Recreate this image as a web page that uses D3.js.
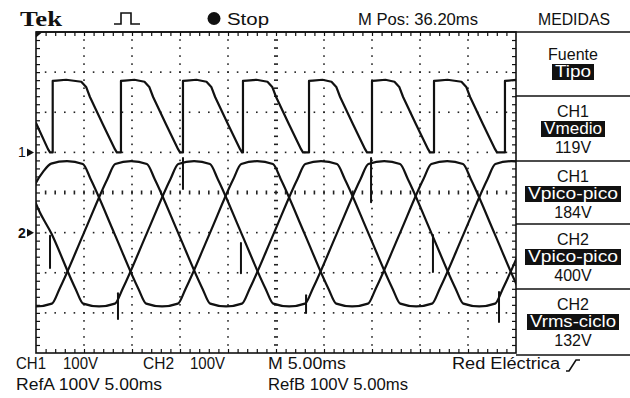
<!DOCTYPE html>
<html><head><meta charset="utf-8">
<script src="https://cdn.jsdelivr.net/npm/d3@7"></script>
<style>
html,body{margin:0;padding:0;background:#fff;}
svg{display:block;}
text{font-family:"Liberation Sans",Arial,sans-serif;fill:#111;}
</style></head><body>
<svg id="c" width="630" height="398"></svg>
<script>
// ---------- data (time in ms, voltage in V) ----------
const timeDomain = [0, 50];          // 10 div x 5.00 ms
const divDomain = [-4, 4];           // 8 vertical divisions
const voltsPerDiv = 100;
const ch1Offset = 1;                 // CH1 ground marker (div)
const ch2Offset = -1;                // CH2 / Ref ground marker (div)

// CH1: rectifier output
const ch1Trace = [
  [0,73],[1.25,8],[1.46,0],
  [1.74,0],[1.74,178],[2.14,179],[3.14,181],[4.72,176],[5.22,163],[5.62,138],[6.96,70],[8.22,8],[8.42,0],
  [8.85,0],[8.85,178],[9.25,179],[10.25,181],[11.3,176],[11.8,163],[12.2,138],[13.54,70],[14.8,8],[15.0,0],
  [15.31,0],[15.31,178],[15.71,179],[16.71,181],[17.76,176],[18.26,163],[18.66,138],[20.0,70],[21.26,8],[21.46,0],
  [21.56,0],[21.56,178],[21.96,179],[22.96,181],[24.11,176],[24.61,163],[25.01,138],[26.35,70],[27.61,8],[27.81,0],
  [28.44,0],[28.44,178],[28.84,179],[29.84,181],[30.78,176],[31.28,163],[31.68,138],[33.02,70],[34.28,8],[34.48,0],
  [35.0,0],[35.0,178],[35.4,179],[36.4,181],[37.34,176],[37.84,163],[38.24,138],[39.58,70],[40.84,8],[41.04,0],
  [41.46,0],[41.46,178],[41.86,179],[42.86,181],[44.32,176],[44.82,163],[45.22,138],[46.56,70],[47.82,8],[48.02,0],
  [48.85,0],[48.85,178],[49.25,179],[50,181]
];

// CH2, RefA, RefB: three phase voltages
const phaseA = [
  [-2.47,-139],[-1.65,-177],[0,-184],[1.65,-177],[2.47,-139],[4.95,-3],[7.43,133],[8.25,171],[9.90,178],
  [11.55,171],[12.37,133],[14.85,-3],[17.33,-139],[18.15,-177],[19.80,-184],[21.45,-177],[22.27,-139],
  [24.75,-3],[27.23,133],[28.05,171],[29.70,178],[31.35,171],[32.17,133],[34.65,-3],[37.13,-139],
  [37.95,-177],[39.60,-184],[41.25,-177],[42.07,-139],[44.55,-3],[47.03,133],[47.85,171],[49.50,178],
  [51.15,171],[51.97,133]
];
const phaseB = [
  [-3.33,178],[-1.68,171],[-0.86,133],[0,72],[1.62,-3],[4.10,-139],[4.92,-177],[6.57,-184],[8.22,-177],[9.04,-139],
  [11.52,-3],[14.00,133],[14.82,171],[16.47,178],[18.12,171],[18.94,133],[21.42,-3],[23.90,-139],
  [24.72,-177],[26.37,-184],[28.02,-177],[28.84,-139],[31.32,-3],[33.80,133],[34.62,171],[36.27,178],
  [37.92,171],[38.74,133],[41.22,-3],[43.70,-139],[44.52,-177],[46.17,-184],[47.82,-177],[48.64,-139],
  [51.12,-3]
];
const phaseC = [
  [-6.67,-184],[-5.02,-177],[-4.20,-139],[-1.72,-3],[0,124],[0.75,152],[1.58,172],[3.23,178],[4.88,171],[5.70,133],
  [8.18,-3],[10.65,-139],[11.48,-177],[13.13,-184],[14.78,-177],[15.60,-139],[18.08,-3],[20.55,133],
  [21.38,171],[23.03,178],[24.68,171],[25.50,133],[27.98,-3],[30.45,-139],[31.28,-177],[32.93,-184],
  [34.58,-177],[35.40,-139],[37.88,-3],[40.35,133],[41.18,171],[42.83,178],[44.48,171],[45.30,133],
  [47.78,-3],[50.25,-139],[51.08,-177]
];
// commutation notches: [time, from V, to V]
const notches = [
  [1.46,-8,-88],[8.54,-151,-215],[15.31,186,109],[21.35,-26,-101],
  [28.13,-156,-200],[34.9,186,76],[41.35,-6,-98],[48.23,-148,-223]
];

// measurement panel
const panelSource = ["Fuente", "Tipo"];
const measChannels = ["CH1", "CH1", "CH2", "CH2"];
const measTypes = ["Vmedio", "Vpico-pico", "Vpico-pico", "Vrms-ciclo"];
const measValues = ["119V", "184V", "400V", "132V"];

// header / footer labels
const headerLabels = ["Tek", "Stop", "M Pos: 36.20ms", "MEDIDAS"];
const footerRow1 = ["CH1", "100V", "CH2", "100V", "M 5.00ms", "Red Eléctrica"];
const footerRow2 = ["RefA 100V 5.00ms", "RefB 100V 5.00ms"];

// ---------- drawing ----------
const svg = d3.select("#c");
const L = 36, R = 516, T = 32, B = 353;
const x = d3.scaleLinear().domain(timeDomain).range([L, R]);
const y = d3.scaleLinear().domain(divDomain).range([B, T]);
const y1 = v => y(ch1Offset + v / voltsPerDiv);
const y2 = v => y(ch2Offset + v / voltsPerDiv);

svg.append("rect").attr("width",630).attr("height",398).attr("fill","#fff");

// dotted graticule
const minorT = d3.range(1, 50);                 // 1 ms = 1/5 div
const minorD = d3.range(-19, 20).map(d => d/5); // 1/5 div
const majorT = [5,10,15,20,30,35,40,45];
const majorD = [-3,-2,-1,1,2,3];
const g = svg.append("g").attr("fill","#222");
majorT.forEach(t => {
  g.selectAll(null).data(minorD).join("rect")
    .attr("x", x(t)-0.8).attr("y", d => y(d)-0.8).attr("width",1.6).attr("height",1.6);
});
majorD.forEach(dv => {
  g.selectAll(null).data(minorT).join("rect")
    .attr("x", t => x(t)-0.8).attr("y", y(dv)-0.8).attr("width",1.6).attr("height",1.6);
});
// center cross with ticks
g.selectAll(null).data(minorD).join("rect")
  .attr("x", x(25)-2).attr("y", d => y(d)-0.8).attr("width",4).attr("height",1.6);
g.selectAll(null).data(minorT).join("rect")
  .attr("x", t => x(t)-0.8).attr("y", y(0)-2).attr("width",1.6).attr("height",4);

// border ticks via axes
const tickStyle = sel => { sel.select(".domain").remove(); sel.selectAll("line").attr("stroke","#111").attr("stroke-width",1.2); sel.selectAll("text").remove(); };
svg.append("g").attr("transform",`translate(0,${T})`).call(d3.axisTop(x).tickValues(minorT).tickSize(-4)).call(tickStyle);
svg.append("g").attr("transform",`translate(0,${B})`).call(d3.axisBottom(x).tickValues(minorT).tickSize(-4)).call(tickStyle);
svg.append("g").attr("transform",`translate(${L},0)`).call(d3.axisLeft(y).tickValues(minorD).tickSize(-4)).call(tickStyle);
svg.append("g").attr("transform",`translate(${R},0)`).call(d3.axisRight(y).tickValues(minorD).tickSize(-4)).call(tickStyle);

// frame
svg.append("rect").attr("x",L).attr("y",T).attr("width",R-L).attr("height",B-T)
  .attr("fill","none").attr("stroke","#111").attr("stroke-width",1.6);
svg.append("path").attr("d",`M${L},${T} H630`).attr("stroke","#111").attr("stroke-width",1.6);
svg.append("path").attr("d",`M${L},${T+0.5} h6 l-6,5 z`).attr("fill","#111");

// traces
svg.append("clipPath").attr("id","clip").append("rect")
  .attr("x",L).attr("y",T).attr("width",R-L).attr("height",B-T);
const tr = svg.append("g").attr("clip-path","url(#clip)")
  .attr("fill","none").attr("stroke","#111").attr("stroke-width",2.2)
  .attr("stroke-linejoin","round").attr("stroke-linecap","round");
tr.append("path").attr("d", d3.line().x(d=>x(d[0])).y(d=>y1(d[1]))(ch1Trace));
const ph = d3.line().x(d=>x(d[0])).y(d=>y2(d[1])).curve(d3.curveMonotoneX);
[phaseA, phaseB, phaseC].forEach(p => tr.append("path").attr("d", ph(p)));
tr.selectAll(null).data(notches).join("line")
  .attr("x1", d=>x(d[0])).attr("x2", d=>x(d[0]))
  .attr("y1", d=>y2(d[1])).attr("y2", d=>y2(d[2])).attr("stroke-width",2);

// ground markers
const mk = (label, yy, bold) => {
  svg.append("text").attr("x",18).attr("y",yy+5).attr("font-size",14)
    .attr("font-weight", bold ? "bold" : "normal").text(label);
  svg.append("path").attr("d",`M27,${yy-4} L34,${yy} L27,${yy+4} z`).attr("fill","#111");
};
mk("1", y1(0), false);
mk("2", y2(0), true);

// header
svg.append("text").attr("x",20).attr("y",26).style("font-family","'Liberation Serif',serif")
  .attr("font-weight","bold").attr("font-size",20).attr("textLength",42).attr("lengthAdjust","spacingAndGlyphs")
  .text(headerLabels[0]);
svg.append("path").attr("d","M114,24 H121 V13 H131 V24 H140").attr("fill","none")
  .attr("stroke","#111").attr("stroke-width",1.6);
svg.append("circle").attr("cx",214).attr("cy",18.5).attr("r",6.5).attr("fill","#111");
const txt = (s, xx, yy, len, fs=16) => svg.append("text").attr("x",xx).attr("y",yy).attr("font-size",fs)
  .attr("xml:space","preserve").attr("textLength",len).attr("lengthAdjust","spacingAndGlyphs").text(s);
txt(headerLabels[1], 227, 25, 42);
txt(headerLabels[2], 358, 25, 120);
txt(headerLabels[3], 538, 25, 72);

// footer
const f1x = [16, 63, 143, 190, 268, 452];
const f1w = [30, 35, 31, 35, 78, 108];
footerRow1.forEach((s,i) => txt(s, f1x[i], 369, f1w[i]));
svg.append("path").attr("d","M566,371 H569 L576,360 H580").attr("fill","none").attr("stroke","#111").attr("stroke-width",1.6);
const f2x = [16, 268];
const f2w = [146, 140];
footerRow2.forEach((s,i) => txt(s, f2x[i], 390, f2w[i]));

// measurement panel
const PX = 573;
const sepY = [96, 161, 224, 289, 355];
svg.selectAll(null).data(sepY).join("line").attr("x1",R).attr("x2",630)
  .attr("y1",d=>d).attr("y2",d=>d).attr("stroke","#111").attr("stroke-width",1.6);
const inv = (s, top, w) => {
  svg.append("rect").attr("x",PX-w/2).attr("y",top).attr("width",w).attr("height",16).attr("fill","#111");
  svg.append("text").attr("x",PX).attr("y",top+13).attr("text-anchor","middle")
    .attr("font-size",16).attr("textLength",w-6).attr("lengthAdjust","spacingAndGlyphs")
    .style("fill","#fff").text(s);
};
svg.append("text").attr("x",PX).attr("y",60).attr("text-anchor","middle").attr("font-size",16).text(panelSource[0]);
inv(panelSource[1], 64, 42);
const boxW = [64, 96, 96, 92];
measTypes.forEach((m,i) => {
  const top = sepY[i];
  svg.append("text").attr("x",PX).attr("y",top+21).attr("text-anchor","middle").attr("font-size",16).text(measChannels[i]);
  inv(m, top+25, boxW[i]);
  svg.append("text").attr("x",PX).attr("y",top+57).attr("text-anchor","middle").attr("font-size",16).text(measValues[i]);
});
</script>
</body></html>
